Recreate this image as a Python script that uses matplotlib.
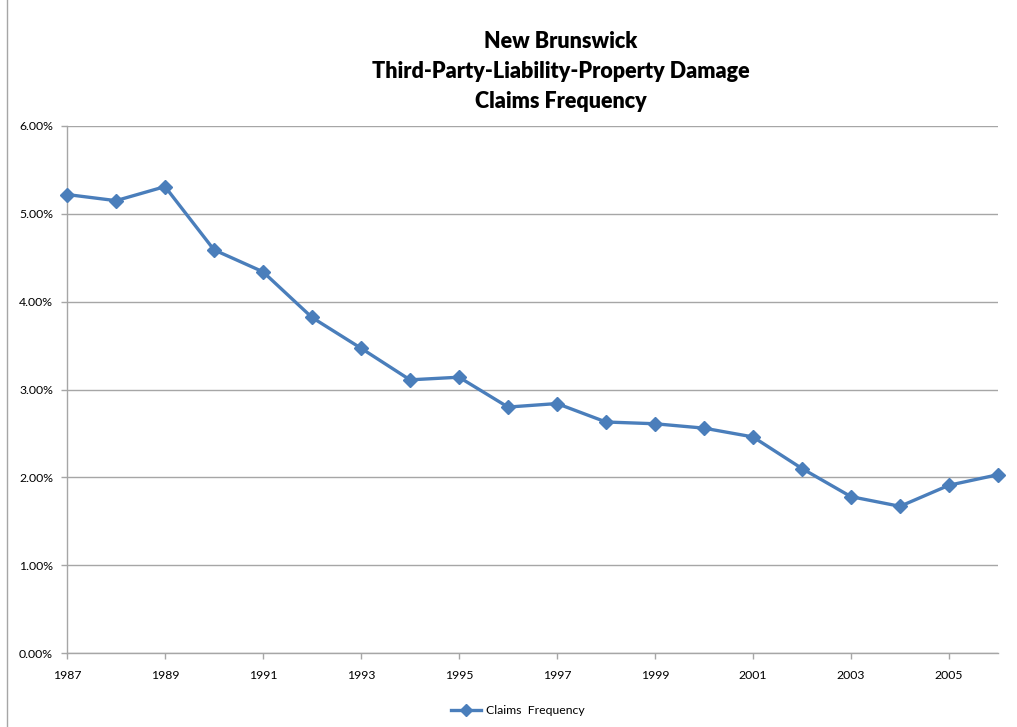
import matplotlib
matplotlib.use("Agg")
import matplotlib.pyplot as plt
from matplotlib.ticker import FuncFormatter, MultipleLocator
from matplotlib.lines import Line2D

years = list(range(1987, 2007))
claims_frequency = [5.22, 5.15, 5.31, 4.59, 4.34, 3.82, 3.47, 3.11, 3.14, 2.80,
                    2.84, 2.63, 2.61, 2.56, 2.46, 2.10, 1.78, 1.67, 1.91, 2.03]
title_lines = ["New Brunswick", "Third-Party-Liability-Property Damage", "Claims Frequency"]
series_name = "Claims  Frequency"

plt.rcParams['font.family'] = ['Lato', 'DejaVu Sans']

fig = plt.figure(figsize=(10.17, 7.27), dpi=100)
ax = fig.add_axes([67/1017, 74/727, (998-67)/1017, (653-126)/727])

color = '#4A7EBB'
ax.plot(years, claims_frequency, color=color, lw=2.4, marker='D', ms=7,
        markeredgecolor=color, markerfacecolor=color, zorder=3, clip_on=False)

ax.set_xlim(1987, 2006)
ax.set_ylim(0, 6)
ax.yaxis.set_major_locator(MultipleLocator(1))
ax.yaxis.set_major_formatter(FuncFormatter(lambda v, p: f"{v:.2f}%"))
ax.set_xticks(list(range(1987, 2007, 2)))
ax.grid(axis='y', color='#A6A6A6', lw=1.0)
ax.set_axisbelow(True)
for s in ['top', 'right']:
    ax.spines[s].set_visible(False)
for s in ['left', 'bottom']:
    ax.spines[s].set_color('#A6A6A6')
    ax.spines[s].set_linewidth(1.0)
ax.tick_params(axis='both', colors='#A6A6A6', labelcolor='black', labelsize=8.8,
               length=4, width=1.0, direction='out')
ax.tick_params(axis='x', pad=8)
ax.tick_params(axis='y', pad=6)

for i, line in enumerate(title_lines):
    fig.text(561/1017, 1 - (41 + 30 * i)/727, line, ha='center', va='center',
             fontsize=15.5, fontweight='heavy')

handle = Line2D([], [], color=color, lw=2.4, marker='D', ms=6.5, markeredgecolor=color)
fig.legend([handle], [series_name], loc='center', bbox_to_anchor=(518/1017, 1 - 711/727),
           frameon=False, fontsize=8.8, handlelength=2.5, handletextpad=0.4)

# chart border on left
fig.add_artist(Line2D([7/1017, 7/1017], [0, 1], color='#A6A6A6', lw=1.0,
                      transform=fig.transFigure))

fig.savefig("out.png", dpi=100)
